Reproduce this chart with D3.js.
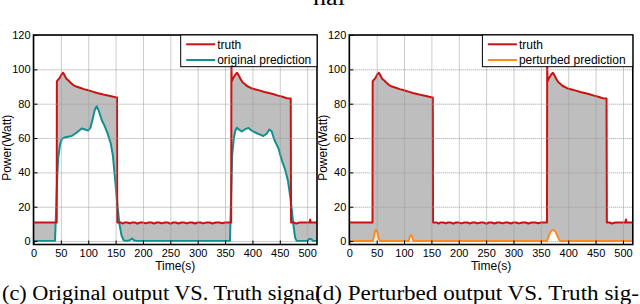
<!DOCTYPE html>
<html lang="en">
<head>
<meta charset="UTF-8">
<title>Original / Perturbed output VS. Truth signal</title>
<style>
  body { margin: 0; background: #fff; }
  svg { display: block; }
  .tick text { font-family: 'Liberation Sans', Arial, sans-serif; font-size: 11px; fill: #000; }
  .tick line { stroke: #000; }
  .grid line { stroke: #9a9a9a; stroke-dasharray: 1,1; }
  .grid path { display: none; }
  .lbl { font-family: 'Liberation Sans', Arial, sans-serif; font-size: 12px; fill: #000; }
  .caption { font-family: 'Liberation Serif', serif; font-size: 20px; fill: #000; }
</style>
</head>
<body>
<svg id="chart" width="640" height="304"></svg>
<script src="https://d3js.org/d3.v7.min.js"></script>
<script>
// ---- data ----
const truthTime = [0, 8, 16, 24, 32, 42.4, 42.7, 45, 48, 51, 54, 57, 60, 64, 67, 72, 78, 85, 92, 100,
  108, 116, 124, 132, 140, 146, 152, 152.6, 153, 160, 163, 166, 172, 176, 180, 186, 190, 194, 200,
  205, 210, 216, 220, 225, 230, 234, 240, 246, 250, 255, 260, 265, 270, 275, 280, 285, 290, 295,
  300, 305, 310, 316, 322, 327, 333, 340, 345, 350, 356, 361.2, 361.6, 362.2, 365, 369, 372, 375,
  378, 382, 386, 390, 398, 406, 414, 422, 430, 439, 447, 455, 463, 470, 470.6, 476, 480, 486, 492,
  498, 504.5, 505.5, 506.5, 512, 518];
const truthPower = [10.8, 10.8, 10.8, 10.8, 10.8, 10.8, 93, 94, 95, 97, 98, 96.5, 94.5, 93.5, 92.5, 91, 90, 89.3, 88.5, 87.8,
  87, 86.2, 85.6, 85, 84.5, 84, 83.6, 83.6, 10.8, 10.8, 10.2, 10.8, 10.8, 10.3, 10.8, 10.8, 10.1, 10.8, 10.8,
  10.3, 10.8, 10.8, 10.2, 10.8, 10.8, 10.3, 10.8, 10.8, 10.1, 10.8, 10.8, 10.2, 10.8, 10.8, 10.3, 10.8, 10.8, 10.2,
  10.8, 10.8, 10.3, 10.8, 10.8, 10.2, 10.8, 10.8, 10.4, 10.8, 10.8, 10.8, 104.5, 93, 95, 97, 98, 96.5,
  94.5, 92.5, 91.5, 90.3, 89, 88.3, 87.6, 86.8, 86.2, 85.5, 84.7, 84, 83.2, 83, 10.8, 10.8, 10.2, 10.8, 10.8,
  10.8, 10.8, 12.5, 10.8, 10.8, 10.8];

const origTime = [0, 20, 39.3, 41, 43, 45, 48.4, 52, 57.6, 63, 69.8, 76, 82, 88, 94, 100, 104, 108, 112, 115.5,
  119, 124.6, 130, 135, 141, 145, 149, 153, 157, 161, 165, 170, 176, 180, 184, 188, 250, 359, 361, 363,
  366, 369, 371.5, 375, 380.6, 386, 392.7, 398, 403, 408, 414, 420, 426, 431, 435, 440, 447.5, 453.7, 460, 465,
  469, 472, 475, 478, 481, 500, 504, 508, 511, 518];
const origPower = [0, 0, 0, 15, 35, 48, 56, 59.5, 60.4, 60.8, 61.2, 62.5, 64, 65.5, 65, 64.3, 66, 71, 76.5, 78.5,
  76, 70.5, 67, 63, 57, 50, 36, 22, 10, 3, 0.3, 0, 0.5, 1.5, 0.3, 0, 0, 0, 25, 50,
  60, 64.5, 66, 65, 63.8, 65, 65.9, 64.5, 63.5, 62.8, 62, 61.2, 62.5, 65, 64, 59, 54, 47, 41.4, 35,
  26, 18, 9, 2, 0, 0, 1.2, 1, 0, 0];

const pertTime = [0, 43, 45, 47, 48.8, 51, 53, 55.5, 108.5, 110.5, 112.9, 115, 117, 361, 364, 367, 370, 373.7,
  377, 380, 384, 386, 518];
const pertPower = [0, 0, 2.5, 5.5, 6.5, 5.5, 2.5, 0, 0, 2.5, 3.5, 2.5, 0, 0, 2.5, 5, 6.3, 6.5,
  5.3, 3, 0.5, 0, 0];

const xTicks = [0, 50, 100, 150, 200, 250, 300, 350, 400, 450, 500];
const yTicks = [0, 20, 40, 60, 80, 100, 120];

const truthColor = "#cc1111";
const origColor = "#10908f";
const pertColor = "#ff8a1e";
const fillColor = "#bebebe";

const svg = d3.select("#chart");
const plotTop = 35, plotW = 283.5, plotH = 209.5;

const x = d3.scaleLinear().domain([0, 518]).range([0, plotW]);
const y = d3.scaleLinear().domain([-2, 120]).range([plotH, 0]);

const zip = (ts, vs) => ts.map((t, i) => [t, vs[i]]);
const line = d3.line().x(d => x(d[0])).y(d => y(d[1]));

function drawPanel(left, id, predTime, predPower, predColor, predLabel, legendW) {
  const g = svg.append("g").attr("transform", `translate(${left},${plotTop})`);

  g.append("clipPath").attr("id", "clip" + id)
    .append("rect").attr("width", plotW).attr("height", plotH);

  const truth = zip(truthTime, truthPower);
  const pred = zip(predTime, predPower);

  const plot = g.append("g").attr("clip-path", `url(#clip${id})`);

  // gray region between truth and prediction
  plot.append("path")
    .attr("d", line(truth.concat(pred.slice().reverse())) + "Z")
    .attr("fill", fillColor)
    .attr("stroke", "none");

  // dotted grid
  g.append("g").attr("class", "grid")
    .attr("transform", `translate(0,${plotH})`)
    .call(d3.axisBottom(x).tickValues(xTicks).tickSize(-plotH).tickFormat(""));
  g.append("g").attr("class", "grid")
    .call(d3.axisLeft(y).tickValues(yTicks).tickSize(-plotW).tickFormat(""));

  plot.append("path").attr("d", line(pred))
    .attr("fill", "none").attr("stroke", predColor).attr("stroke-width", 2)
    .attr("stroke-linejoin", "round");
  plot.append("path").attr("d", line(truth))
    .attr("fill", "none").attr("stroke", truthColor).attr("stroke-width", 2)
    .attr("stroke-linejoin", "round");

  // axes
  const xa = g.append("g").attr("transform", `translate(0,${plotH})`)
    .call(d3.axisBottom(x).tickValues(xTicks).tickSizeInner(-4).tickSizeOuter(0).tickPadding(4.3));
  const ya = g.append("g")
    .call(d3.axisLeft(y).tickValues(yTicks).tickSizeInner(-4).tickSizeOuter(0).tickPadding(3));
  xa.select(".domain").remove();
  ya.select(".domain").remove();

  g.append("rect").attr("width", plotW).attr("height", plotH)
    .attr("fill", "none").attr("stroke", "#000").attr("stroke-width", 1.6);

  // legend
  const lg = g.append("g").attr("transform", `translate(${plotW - legendW},0)`);
  lg.append("rect").attr("width", legendW).attr("height", 31.7)
    .attr("fill", "#fff").attr("stroke", "#000").attr("stroke-width", 1);
  [[truthColor, "truth", 9.3], [predColor, predLabel, 25]].forEach(([c, t, ly]) => {
    lg.append("line").attr("x1", 5.5).attr("x2", 34.5).attr("y1", ly).attr("y2", ly)
      .attr("stroke", c).attr("stroke-width", 2);
    lg.append("text").attr("class", "lbl").attr("x", 36.5).attr("y", ly + 4.2).text(t);
  });

  // axis titles
  svg.append("text").attr("class", "lbl").attr("text-anchor", "middle")
    .attr("x", left + plotW / 2).attr("y", 269.8).text("Time(s)");
  svg.append("text").attr("class", "lbl").attr("text-anchor", "middle")
    .attr("transform", `translate(${left - 22.5},${plotTop + plotH / 2 + 8}) rotate(-90)`)
    .text("Power(Watt)");
}

drawPanel(33.5, "a", origTime, origPower, origColor, "original prediction", 136.3);
drawPanel(349.3, "b", pertTime, pertPower, pertColor, "perturbed prediction", 150.4);

// captions (the "nal" line is cut by the top edge, as in the source figure)
svg.append("text").attr("class", "caption").attr("x", 313).attr("y", 5)
  .attr("textLength", 32).attr("lengthAdjust", "spacingAndGlyphs").text("nal");
svg.append("text").attr("class", "caption").attr("x", 2).attr("y", 300)
  .attr("textLength", 319).attr("lengthAdjust", "spacingAndGlyphs")
  .text("(c) Original output VS. Truth signal");
svg.append("text").attr("class", "caption").attr("x", 315).attr("y", 300)
  .attr("textLength", 324).attr("lengthAdjust", "spacingAndGlyphs")
  .text("(d) Perturbed output VS. Truth sig-");
</script>
</body>
</html>
